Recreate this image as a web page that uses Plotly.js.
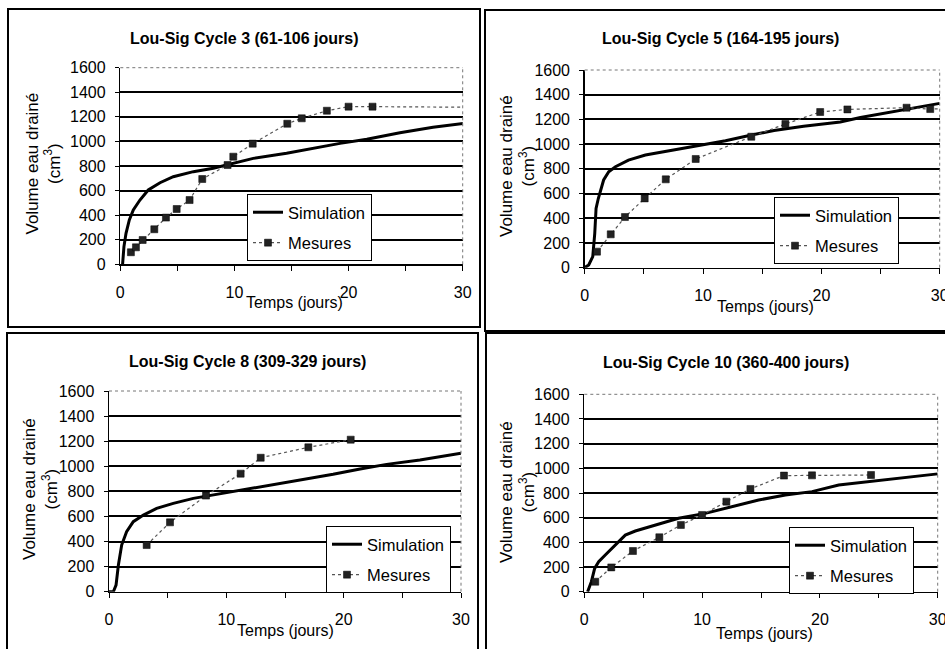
<!DOCTYPE html>
<html>
<head>
<meta charset="utf-8">
<script src="https://cdn.plot.ly/plotly-3.0.1.min.js"></script>
<style>html,body{margin:0;padding:0;background:#fff;}#chart{width:945px;height:649px;}</style>
</head>
<body>
<div id="chart"></div>
<script>
// ---- Data ----
const panelTitles = [
  "Lou-Sig Cycle 3 (61-106 jours)",
  "Lou-Sig Cycle 5 (164-195 jours)",
  "Lou-Sig Cycle 8 (309-329 jours)",
  "Lou-Sig Cycle 10 (360-400 jours)"
];
const seriesNames = ["Simulation", "Mesures"];
const xTickVals = [0, 10, 20, 30];
const yTitleText = "Volume eau drainé<br>(cm<sup>3</sup>)";
const xTitleText = "Temps (jours)";

// Cycle 3
const c3SimT = [0.2, 0.32, 0.5, 0.79, 1.14, 1.72, 2.45, 3.48, 4.64, 6.4, 8.15, 9.9, 11.65, 14.57, 16.9, 19.25, 21.6, 24.5, 27.4, 30.2];
const c3SimV = [0, 144, 252, 361, 442, 523, 605, 664, 713, 754, 781, 822, 862, 903, 944, 984, 1017, 1071, 1115, 1147];
const c3MesT = [0.93, 1.37, 1.96, 2.98, 4.0, 4.94, 6.07, 7.18, 9.4, 9.9, 11.6, 14.63, 15.9, 18.1, 20.0, 22.1, 31];
const c3MesV = [98, 138, 198, 285, 380, 450, 523, 694, 808, 876, 982, 1144, 1188, 1250, 1283, 1283, 1278];

// Cycle 5
const c5SimT = [0, 0.34, 0.68, 0.85, 0.96, 1.15, 1.6, 2.03, 2.6, 3.7, 5.13, 7.38, 9.63, 11.9, 14.1, 16.0, 18.5, 20.0, 21.6, 23.3, 25.0, 27.0, 30.0];
const c5SimV = [0, 22, 89, 278, 480, 560, 710, 777, 817, 871, 912, 952, 987, 1028, 1074, 1110, 1145, 1160, 1180, 1215, 1245, 1275, 1330];
const c5MesT = [1.04, 2.2, 3.4, 5.07, 6.85, 9.38, 14.08, 16.96, 19.9, 22.2, 27.2, 29.2, 31];
const c5MesV = [130, 270, 410, 561, 715, 880, 1060, 1163, 1260, 1281, 1295, 1284, 1288];

// Cycle 8
const c8SimT = [0, 0.37, 0.6, 0.8, 1.08, 1.5, 2.07, 2.93, 4.06, 5.48, 7.19, 8.89, 10.6, 12.87, 14.86, 16.85, 19.1, 21.4, 23.66, 26.5, 30.0];
const c8SimV = [0, 0, 53, 213, 372, 478, 558, 611, 664, 704, 744, 771, 797, 837, 864, 898, 936, 978, 1015, 1050, 1103];
const c8MesT = [3.21, 5.2, 8.27, 11.22, 12.93, 16.99, 20.6];
const c8MesV = [372, 553, 766, 941, 1068, 1151, 1212];

// Cycle 10
const c10SimT = [0.28, 0.6, 0.88, 1.22, 1.78, 2.63, 3.48, 4.33, 6.03, 8.0, 10.27, 12.5, 14.8, 17.07, 19.33, 21.6, 24.4, 27.26, 30.0];
const c10SimV = [0, 81, 189, 243, 297, 378, 459, 492, 541, 595, 635, 689, 743, 784, 811, 865, 897, 924, 955];
const c10MesT = [0.93, 2.29, 4.13, 6.37, 8.2, 10.0, 12.06, 14.1, 16.95, 19.33, 24.34];
const c10MesV = [81, 197, 330, 441, 541, 622, 730, 833, 941, 943, 946];

// ---- Layout helpers ----
const W = 945, H = 649;
const PX = x => x / W;
const PY = y => 1 - y / H;
const FONT = "Liberation Sans, Arial, sans-serif";

const panels = [
  { sim: [c3SimT, c3SimV],  mes: [c3MesT, c3MesV],
    plot: [120.3, 67.7, 462.7, 264.3], box: [8, 9, 480, 327],
    title: [244, 39], ytitle: [43.5, 164], xtitle: [294, 302], leg: [247, 194] },
  { sim: [c5SimT, c5SimV],  mes: [c5MesT, c5MesV],
    plot: [584.7, 70, 939.7, 267.7], box: [485, 10, 952, 331],
    title: [720, 39], ytitle: [517, 166], xtitle: [765, 306], leg: [774, 197] },
  { sim: [c8SimT, c8SimV],  mes: [c8MesT, c8MesV],
    plot: [109, 391, 461, 591.7], box: [7, 333, 478, 660],
    title: [247, 361], ytitle: [40, 489], xtitle: [285, 630], leg: [326, 526] },
  { sim: [c10SimT, c10SimV], mes: [c10MesT, c10MesV],
    plot: [584.3, 394.3, 937.7, 591.7], box: [486, 333, 952, 660],
    title: [726, 362], ytitle: [517, 492], xtitle: [764, 633], leg: [789, 527] }
];

const traces = [];
const layout = {
  width: W, height: H, autosize: false,
  margin: { l: 0, r: 0, t: 0, b: 0, pad: 0 },
  paper_bgcolor: "#fff", plot_bgcolor: "#fff",
  font: { family: FONT, color: "#000", size: 16 },
  showlegend: true,
  shapes: [], annotations: []
};

panels.forEach((p, i) => {
  const n = i + 1;
  const xa = n === 1 ? "x" : "x" + n;
  const ya = n === 1 ? "y" : "y" + n;
  const xk = n === 1 ? "xaxis" : "xaxis" + n;
  const yk = n === 1 ? "yaxis" : "yaxis" + n;
  const lk = n === 1 ? "legend" : "legend" + n;

  traces.push({
    x: p.sim[0], y: p.sim[1], xaxis: xa, yaxis: ya, name: seriesNames[0],
    type: "scatter", mode: "lines", line: { color: "#000", width: 3 },
    legend: lk, legendgroup: "sim" + n
  });
  traces.push({
    x: p.mes[0], y: p.mes[1], xaxis: xa, yaxis: ya, name: seriesNames[1],
    type: "scatter", mode: "lines+markers",
    line: { color: "#555", width: 1.2, dash: "dot" },
    marker: { symbol: "square", size: 7, color: "#222", line: { color: "#000", width: 0.5 } },
    legend: lk, legendgroup: "mes" + n
  });

  layout[xk] = {
    domain: [PX(p.plot[0]), PX(p.plot[2])], anchor: ya,
    range: [0, 30], tickvals: xTickVals,
    ticks: "outside", ticklen: 5, tickwidth: 1, tickcolor: "#000",
    minor: { dtick: 5, tick0: 0, ticks: "outside", ticklen: 5, tickwidth: 1, tickcolor: "#000", showgrid: false },
    showline: true, linecolor: "#000", linewidth: 1.5,
    showgrid: false, zeroline: false, fixedrange: true,
    ticklabeloverflow: "allow",
    tickfont: { family: FONT, size: 16, color: "#000" }, ticklabelstandoff: 8
  };
  layout[yk] = {
    domain: [PY(p.plot[3]), PY(p.plot[1])], anchor: xa,
    range: [0, 1600], tick0: 0, dtick: 200,
    ticks: "outside", ticklen: 4, tickwidth: 1, tickcolor: "#000",
    showline: true, linecolor: "#000", linewidth: 1.5,
    showgrid: true, gridcolor: "#000", gridwidth: 2, zeroline: false, fixedrange: true,
    tickfont: { family: FONT, size: 16, color: "#000" }, ticklabelstandoff: 6
  };
  layout[lk] = {
    x: PX(p.leg[0]), y: PY(p.leg[1]), xanchor: "left", yanchor: "top",
    xref: "paper", yref: "paper",
    bgcolor: "#fff", bordercolor: "#000", borderwidth: 1,
    font: { family: FONT, size: 16.5, color: "#000" },
    traceorder: "grouped", tracegroupgap: 6, itemwidth: 30
  };

  // panel frame
  layout.shapes.push({
    type: "rect", xref: "paper", yref: "paper", layer: "below",
    x0: PX(p.box[0]), x1: PX(p.box[2]), y0: PY(p.box[3]), y1: PY(p.box[1]),
    line: { color: "#000", width: 2 }, fillcolor: "rgba(0,0,0,0)"
  });
  // dotted plot-area border (top and right)
  layout.shapes.push({
    type: "line", xref: xa + " domain", yref: ya + " domain", layer: "above",
    x0: 0, x1: 1, y0: 1, y1: 1, line: { color: "#fff", width: 3 }
  });
  layout.shapes.push({
    type: "line", xref: xa + " domain", yref: ya + " domain", layer: "above",
    x0: 0, x1: 1, y0: 1, y1: 1, line: { color: "#777", width: 1, dash: "dot" }
  });
  layout.shapes.push({
    type: "line", xref: xa + " domain", yref: ya + " domain", layer: "above",
    x0: 1, x1: 1, y0: 0, y1: 1, line: { color: "#777", width: 1, dash: "dot" }
  });

  // titles
  layout.annotations.push({
    text: "<b>" + panelTitles[i] + "</b>", xref: "paper", yref: "paper",
    x: PX(p.title[0]), y: PY(p.title[1]), xanchor: "center", yanchor: "middle",
    showarrow: false, font: { family: FONT, size: 16, color: "#000" }
  });
  layout.annotations.push({
    text: yTitleText, xref: "paper", yref: "paper", textangle: -90,
    x: PX(p.ytitle[0]), y: PY(p.ytitle[1]), xanchor: "center", yanchor: "middle",
    showarrow: false, font: { family: FONT, size: 17, color: "#000" }
  });
  layout.annotations.push({
    text: xTitleText, xref: "paper", yref: "paper",
    x: PX(p.xtitle[0]), y: PY(p.xtitle[1]), xanchor: "center", yanchor: "middle",
    showarrow: false, font: { family: FONT, size: 16, color: "#000" }
  });
});

Plotly.newPlot("chart", traces, layout, { staticPlot: true, displayModeBar: false });
</script>
</body>
</html>
